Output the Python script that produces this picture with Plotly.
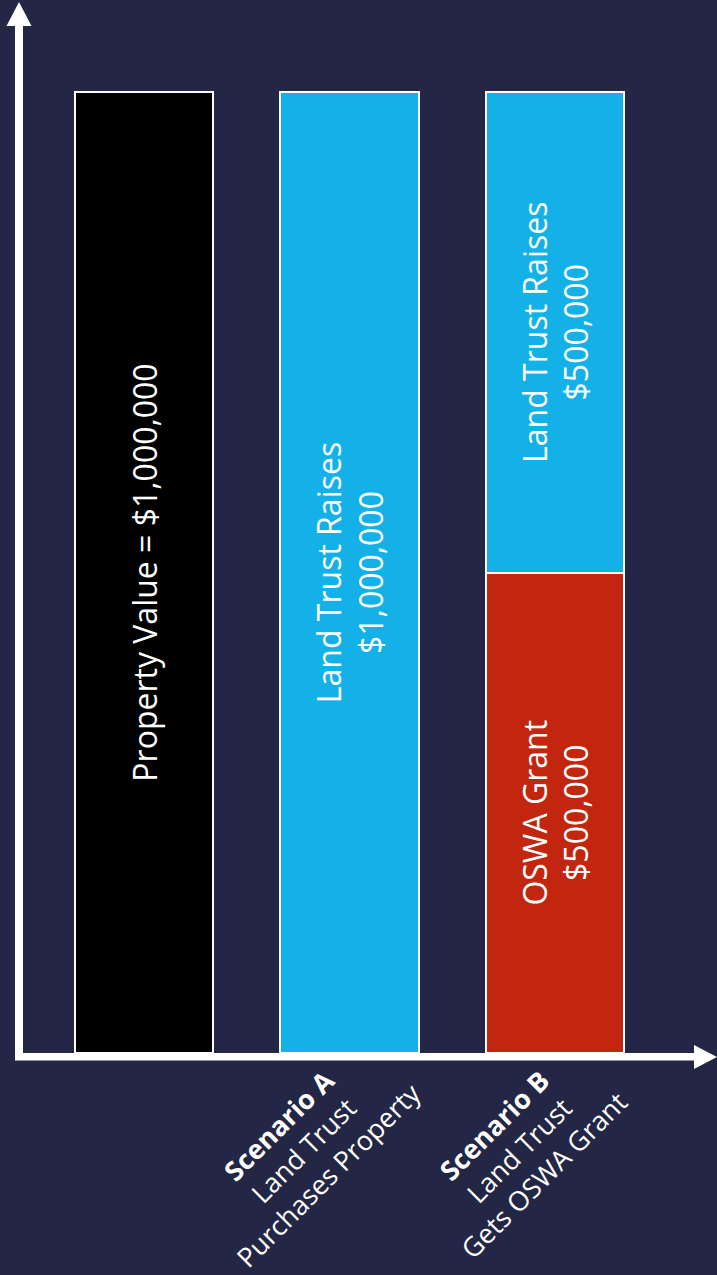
import plotly.graph_objects as go

# ---- data ----
bar_positions = [0, 1, 2]
category_labels = ["", "<b>Scenario A</b><br>Land Trust<br>Purchases Property",
                   "<b>Scenario B</b><br>Land Trust<br>Gets OSWA Grant"]

property_x = [0]
property_vals = [1_000_000]
property_text = ["Property Value = $1,000,000"]

grant_x = [2]
grant_vals = [500_000]
grant_text = ["OSWA Grant<br>$500,000"]

raise_x = [1, 2]
raise_vals = [1_000_000, 500_000]
raise_text = ["Land Trust Raises<br>$1,000,000", "Land Trust Raises<br>$500,000"]

# ---- style ----
BG = "#232745"
BLUE = "#13B1E8"
RED = "#C2260E"
FONT = "Open Sans"
W, H = 717, 1275
MB = 222  # bottom margin
PH = H - MB

def px(x):
    return x / W

def py(y):
    return (PH - y) / PH

bar_common = dict(
    width=0.672,
    marker_line=dict(color="white", width=2),
    textposition="inside",
    insidetextanchor="middle",
    textangle=-90,
    textfont=dict(color="white", size=32, family=FONT),
    hoverinfo="skip",
    showlegend=False,
)

fig = go.Figure()
fig.add_trace(go.Bar(x=property_x, y=property_vals, text=property_text,
                     marker_color="black", **bar_common))
fig.add_trace(go.Bar(x=grant_x, y=grant_vals, text=grant_text,
                     marker_color=RED, **bar_common))
fig.add_trace(go.Bar(x=raise_x, y=raise_vals, text=raise_text,
                     marker_color=BLUE, **bar_common))

# axis arrows (decoration)
shapes = [
    dict(type="rect", xref="paper", yref="paper", x0=px(15), x1=px(23),
         y0=py(24), y1=py(1060), fillcolor="white", line_width=0, layer="above"),
    dict(type="path", xref="paper", yref="paper",
         path=f"M {px(19)} {py(2)} L {px(6.5)} {py(26)} L {px(31.5)} {py(26)} Z",
         fillcolor="white", line_width=0, layer="above"),
    dict(type="rect", xref="paper", yref="paper", x0=px(15), x1=px(696),
         y0=py(1053), y1=py(1060.5), fillcolor="white", line_width=0, layer="above"),
    dict(type="path", xref="paper", yref="paper",
         path=f"M {px(717)} {py(1057)} L {px(694)} {py(1045)} L {px(694)} {py(1069)} Z",
         fillcolor="white", line_width=0, layer="above"),
]

label_shift = {1: -47, 2: -37}
annotations = []
for xpos, lab in zip(bar_positions, category_labels):
    if not lab:
        continue
    annotations.append(dict(
        x=xpos, xref="x", y=py(1150), yref="paper",
        xshift=label_shift[xpos],
        text=lab, showarrow=False, textangle=-45,
        xanchor="center", yanchor="middle", align="center",
        font=dict(color="white", size=27, family=FONT),
    ))

fig.update_layout(
    width=W, height=H,
    barmode="stack",
    paper_bgcolor=BG, plot_bgcolor=BG,
    margin=dict(l=0, r=0, t=0, b=MB),
    xaxis=dict(range=[-144 / 205.5, 573 / 205.5], visible=False,
               tickvals=bar_positions, ticktext=category_labels),
    yaxis=dict(range=[0, 1_000_000 * PH / (PH - 92)], visible=False),
    shapes=shapes,
    annotations=annotations,
    uniformtext=dict(mode=False),
)

fig.write_html("out.html", config={"displayModeBar": False})
